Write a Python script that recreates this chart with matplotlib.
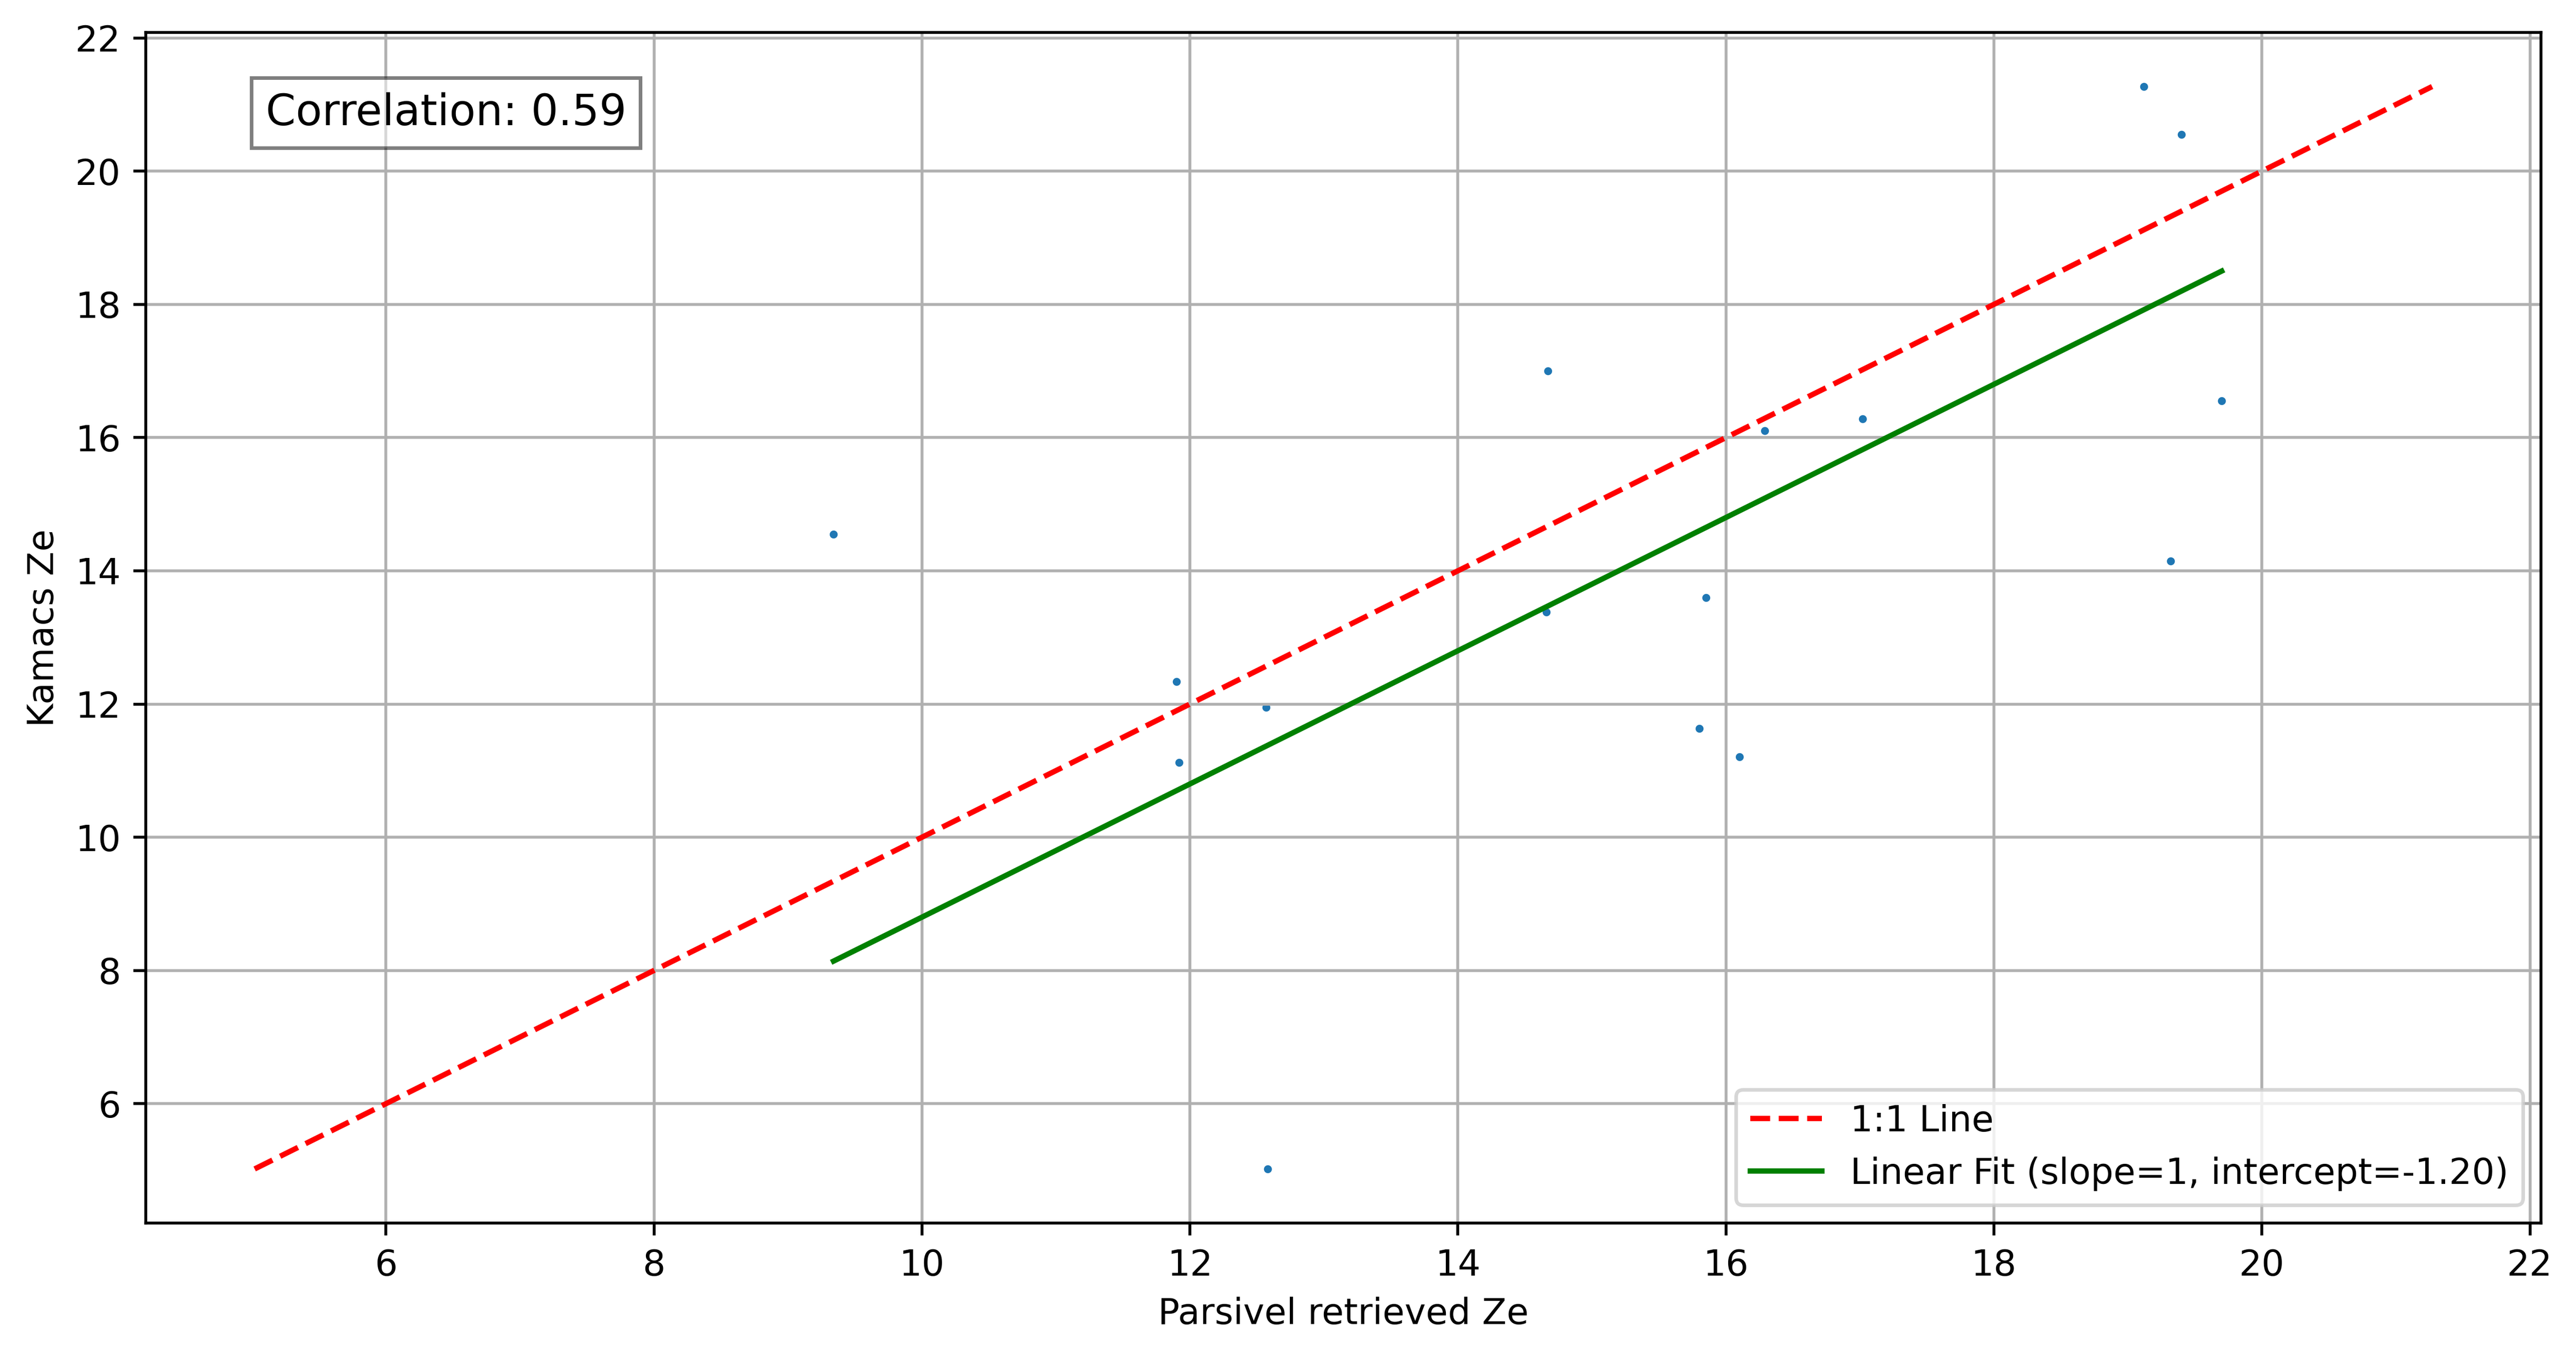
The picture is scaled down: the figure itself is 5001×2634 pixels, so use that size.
import numpy as np
import matplotlib
matplotlib.use("Agg")
import matplotlib.pyplot as plt

# Values
parsivel_ze = [9.34, 11.90, 11.92, 12.57, 12.58, 14.67, 14.66, 15.80,
               15.85, 16.10, 16.29, 17.02, 19.12, 19.40, 19.32, 19.70]
kamacs_ze = [14.55, 12.34, 11.12, 11.95, 5.02, 17.00, 13.38, 11.63,
             13.60, 11.21, 16.10, 16.28, 21.27, 20.55, 14.15, 16.55]

fit_slope = 1
fit_intercept = -1.20
correlation = 0.59

x = np.array(parsivel_ze)
y = np.array(kamacs_ze)

DPI = 500
fig, ax = plt.subplots(figsize=(5001 / DPI, 2634 / DPI), dpi=DPI)

ax.scatter(x, y, s=1.5)

# 1:1 line over the full data range
lo = min(x.min(), y.min())
hi = max(x.max(), y.max())
ax.plot([lo, hi], [lo, hi], 'r--', label='1:1 Line')

# Linear fit over the x range
xfit = np.array([x.min(), x.max()])
ax.plot(xfit, fit_slope * xfit + fit_intercept, 'g-',
        label=f'Linear Fit (slope={fit_slope}, intercept={fit_intercept:.2f})')

ax.text(0.05, 0.95, f'Correlation: {correlation:.2f}', transform=ax.transAxes,
        fontsize=12, va='top', bbox=dict(facecolor='white', edgecolor='black', alpha=0.5))

ax.set_xlabel('Parsivel retrieved Ze')
ax.set_ylabel('Kamacs Ze')
ax.set_xticks(range(6, 23, 2))
ax.set_yticks(range(6, 23, 2))
ax.grid(True)
ax.legend(loc='lower right')

fig.subplots_adjust(left=0.0566, right=0.9864, top=0.9761, bottom=0.0987)
plt.savefig('out.png', dpi=DPI)
